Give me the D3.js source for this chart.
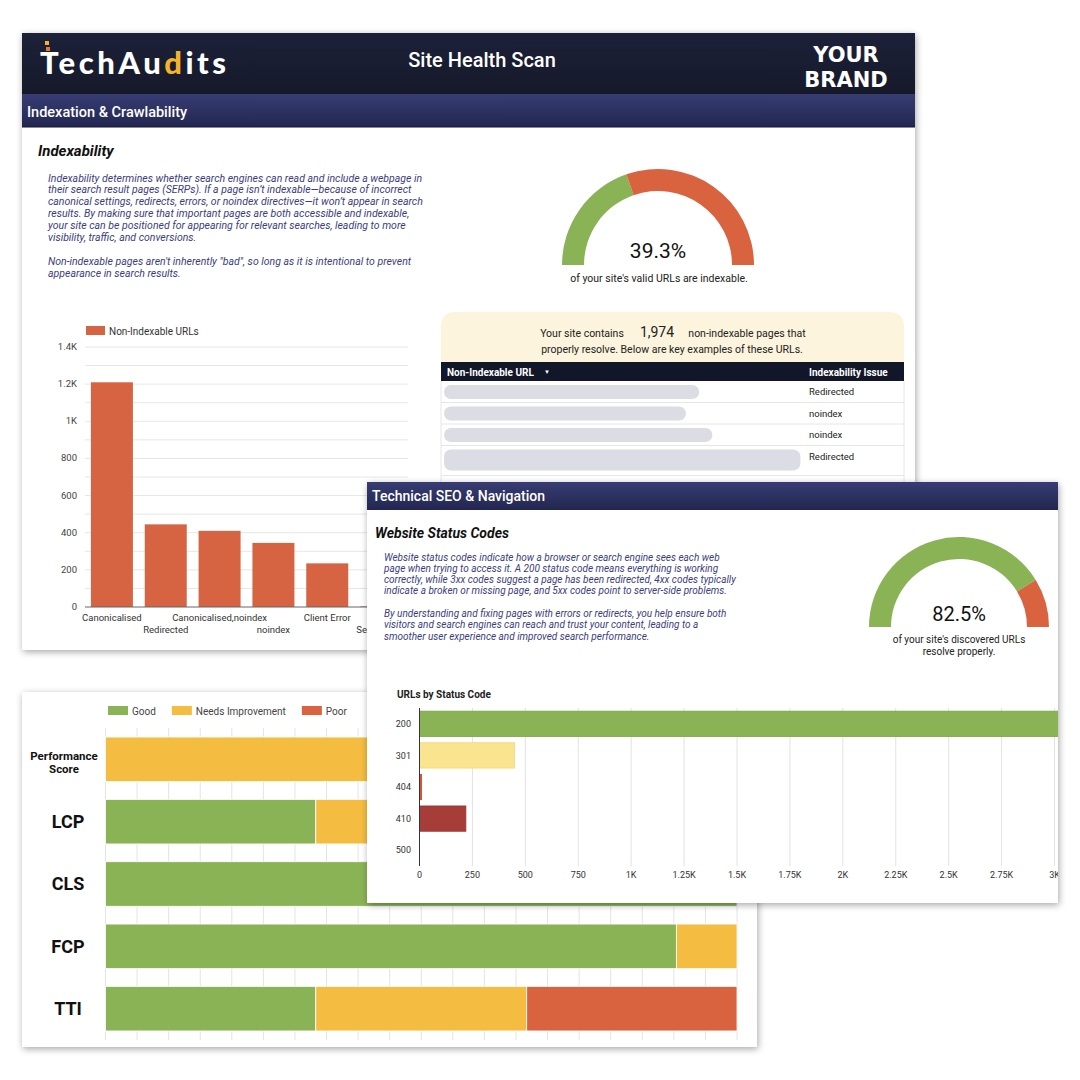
<!DOCTYPE html>
<html>
<head>
<meta charset="utf-8">
<script src="https://cdn.jsdelivr.net/npm/d3@7"></script>
<style>
  body { margin: 0; background: #fff; }
  svg { display: block; font-family: Roboto, "Noto Sans", sans-serif; }
</style>
</head>
<body>
<div id="chart"></div>
<script>
// ---- data ----
const idxCategories = ["Canonicalised", "Redirected", "Canonicalised,noindex", "noindex", "Client Error", "Server Error"];
const idxValues = [1210, 445, 410, 345, 235, 3];
const idxTicks = [0, 200, 400, 600, 800, 1000, 1200, 1400];

const indexablePct = 39.3;
const resolvePct = 82.5;
const nonIndexableCount = "1,974";

const tableIssues = ["Redirected", "noindex", "noindex", "Redirected"];
const urlChars = [58, 55, 61, 81];   // length of the redacted urls

const statusCodes = ["200", "301", "404", "410", "500"];
const statusCounts = [3206, 449, 10, 219, 0];
const statusTicks = [0, 250, 500, 750, 1000, 1250, 1500, 1750, 2000, 2250, 2500, 2750, 3000];

const cwvMetrics = ["Performance Score", "LCP", "CLS", "FCP", "TTI"];
const cwvGood  = [0, 33.3, 100, 90.4, 33.3];
const cwvNeeds = [100, 66.7, 0, 9.6, 33.4];
const cwvPoor  = [0, 0, 0, 0, 33.3];

const indexText = [
  "Indexability determines whether search engines can read and include a webpage in",
  "their search result pages (SERPs). If a page isn\u2019t indexable\u2014because of incorrect",
  "canonical settings, redirects, errors, or noindex directives\u2014it won\u2019t appear in search",
  "results. By making sure that important pages are both accessible and indexable,",
  "your site can be positioned for appearing for relevant searches, leading to more",
  "visibility, traffic, and conversions.",
  "",
  "Non-indexable pages aren't inherently \"bad\", so long as it is intentional to prevent",
  "appearance in search results."
];
const statusText = [
  "Website status codes indicate how a browser or search engine sees each web",
  "page when trying to access it. A 200 status code means everything is working",
  "correctly, while 3xx codes suggest a page has been redirected, 4xx codes typically",
  "indicate a broken or missing page, and 5xx codes point to server-side problems.",
  "",
  "By understanding and fixing pages with errors or redirects, you help ensure both",
  "visitors and search engines can reach and trust your content, leading to a",
  "smoother user experience and improved search performance."
];

const GREEN = "#8ab356", YELLOW = "#f4bd42", RED = "#d9633f";
const kfmt = d => d >= 1000 ? (+(d / 1000).toFixed(2)) + "K" : String(d);

const svg = d3.select("#chart").append("svg").attr("width", 1080).attr("height", 1080);
const defs = svg.append("defs");

const f = defs.append("filter").attr("id", "shadow")
  .attr("x", "-5%").attr("y", "-5%").attr("width", "110%").attr("height", "110%");
f.append("feDropShadow").attr("dx", 1).attr("dy", 2).attr("stdDeviation", 3.5)
  .attr("flood-color", "#000").attr("flood-opacity", 0.35);

function grad(id, c1, c2) {
  const lg = defs.append("linearGradient").attr("id", id).attr("x1", 0).attr("y1", 0).attr("x2", 0).attr("y2", 1);
  lg.append("stop").attr("offset", "0%").attr("stop-color", c1);
  lg.append("stop").attr("offset", "100%").attr("stop-color", c2);
}
grad("hdrDark", "#1d2139", "#151929");
grad("hdrBar", "#373d73", "#222650");

function makePanel(id, x, y, w, h) {
  const g = svg.append("g").attr("id", id);
  g.append("rect").attr("x", x).attr("y", y).attr("width", w).attr("height", h)
    .attr("fill", "#fff").attr("filter", "url(#shadow)");
  defs.append("clipPath").attr("id", id + "-clip")
    .append("rect").attr("x", x).attr("y", y).attr("width", w).attr("height", h);
  return g.append("g").attr("clip-path", `url(#${id}-clip)`);
}

function paragraph(g, lines, x, y0, lh, size) {
  g.append("text").attr("font-size", size).attr("font-style", "italic").attr("fill", "#3a3d7e")
    .selectAll("tspan").data(lines).join("tspan")
    .attr("x", x).attr("y", (d, i) => y0 + i * lh).text(d => d);
}

function gauge(g, cx, cy, rIn, rOut, pct) {
  const arc = d3.arc().innerRadius(rIn).outerRadius(rOut);
  const split = -Math.PI / 2 + Math.PI * pct / 100;
  g.append("path").attr("transform", `translate(${cx},${cy})`)
    .attr("d", arc({ startAngle: -Math.PI / 2, endAngle: split })).attr("fill", GREEN);
  g.append("path").attr("transform", `translate(${cx},${cy})`)
    .attr("d", arc({ startAngle: split, endAngle: Math.PI / 2 })).attr("fill", RED);
}

// ================= panel 3 : core web vitals =================
const p3 = makePanel("p3", 22, 692, 735, 355);
const cwx = d3.scaleLinear().domain([0, 100]).range([105.5, 737]);
const cwy = d3.scaleBand().domain(cwvMetrics).range([728, 1040]).paddingInner(0.285).paddingOuter(0.145);

p3.append("g").selectAll("line").data(d3.range(0, 101, 5)).join("line")
  .attr("x1", d => cwx(d)).attr("x2", d => cwx(d)).attr("y1", 728).attr("y2", 1040)
  .attr("stroke", "#e4e4e4");

const cwvRows = cwvMetrics.map((m, i) => ({ metric: m, good: cwvGood[i], needs: cwvNeeds[i], poor: cwvPoor[i] }));
const cwvSeries = d3.stack().keys(["good", "needs", "poor"])(cwvRows);
const cwvColor = d3.scaleOrdinal().domain(["good", "needs", "poor"]).range([GREEN, YELLOW, RED]);

p3.append("g").selectAll("g").data(cwvSeries).join("g")
  .attr("fill", d => cwvColor(d.key))
  .selectAll("rect").data(d => d.filter(v => v[1] > v[0])).join("rect")
  .attr("x", d => cwx(d[0])).attr("width", d => cwx(d[1]) - cwx(d[0]))
  .attr("y", d => cwy(d.data.metric)).attr("height", cwy.bandwidth())
  .attr("stroke", "#fff").attr("stroke-width", 0.8);

cwvMetrics.forEach(m => {
  const yc = cwy(m) + cwy.bandwidth() / 2;
  const words = m.split(" ");
  if (words.length > 1) {
    p3.append("text").attr("text-anchor", "middle").attr("font-size", 11.5).attr("font-weight", 700).attr("fill", "#111")
      .selectAll("tspan").data(words).join("tspan")
      .attr("x", 64).attr("y", (d, i) => yc + 0.5 + i * 13).text(d => d);
  } else {
    p3.append("text").attr("x", 68).attr("y", yc).attr("dy", "0.36em").attr("text-anchor", "middle")
      .attr("font-size", 18).attr("font-weight", 700).attr("fill", "#111").text(m);
  }
});

const legItems = [["Good", GREEN], ["Needs Improvement", YELLOW], ["Poor", RED]];
let lx = 108;
legItems.forEach(([name, col]) => {
  p3.append("rect").attr("x", lx).attr("y", 706).attr("width", 20).attr("height", 9).attr("fill", col);
  const t = p3.append("text").attr("x", lx + 24).attr("y", 711).attr("dy", "0.35em")
    .attr("font-size", 10).attr("fill", "#444").text(name);
  lx += 24 + t.node().getComputedTextLength() + 16;
});

// ================= panel 1 : indexation =================
const p1 = makePanel("p1", 22, 33, 893, 617);
p1.append("rect").attr("x", 22).attr("y", 33).attr("width", 893).attr("height", 61).attr("fill", "url(#hdrDark)");
p1.append("rect").attr("x", 22).attr("y", 94).attr("width", 893).attr("height", 33).attr("fill", "url(#hdrBar)");
p1.append("line").attr("x1", 22).attr("x2", 915).attr("y1", 127).attr("y2", 127).attr("stroke", "#14172c");

// logo
const logo = p1.append("text").attr("x", 40).attr("y", 74).attr("font-family", "Lato, Roboto, sans-serif")
  .attr("font-size", 31).attr("font-weight", 900).attr("fill", "#fff")
  .attr("textLength", 186).attr("lengthAdjust", "spacing");
logo.append("tspan").text("TechAu");
logo.append("tspan").attr("fill", "#f5b32c").text("d");
logo.append("tspan").text("its");
p1.append("rect").attr("x", 45).attr("y", 41).attr("width", 4).attr("height", 4).attr("fill", "#f5b32c");
p1.append("rect").attr("x", 46).attr("y", 47).attr("width", 4).attr("height", 4).attr("fill", "#e8762e");

p1.append("text").attr("x", 482).attr("y", 67).attr("text-anchor", "middle")
  .attr("font-size", 20).attr("font-weight", 500).attr("fill", "#fff").text("Site Health Scan");
p1.append("text").attr("text-anchor", "middle").attr("font-family", "'DejaVu Sans', 'Liberation Sans', sans-serif")
  .attr("font-size", 21).attr("font-weight", 700).attr("fill", "#fff")
  .selectAll("tspan").data(["YOUR", "BRAND"]).join("tspan")
  .attr("x", 846).attr("y", (d, i) => 62 + i * 25).text(d => d);
p1.append("text").attr("x", 27).attr("y", 117).attr("font-size", 14.5).attr("font-weight", 500)
  .attr("fill", "#fff").text("Indexation & Crawlability");

p1.append("text").attr("x", 38).attr("y", 156).attr("font-size", 15).attr("font-weight", 700)
  .attr("font-style", "italic").attr("fill", "#111").text("Indexability");
paragraph(p1, indexText, 48, 181.5, 11.9, 10.5);

// gauge 1
gauge(p1, 658, 265, 74, 96, indexablePct);
p1.append("text").attr("x", 658).attr("y", 258).attr("text-anchor", "middle").attr("font-size", 21)
  .attr("fill", "#111").text(indexablePct.toFixed(1) + "%");
p1.append("text").attr("x", 659).attr("y", 282).attr("text-anchor", "middle").attr("font-size", 10.5)
  .attr("fill", "#222").text("of your site's valid URLs are indexable.");

// bar chart non-indexable
const bx = d3.scaleBand().domain(idxCategories).range([85, 408]).paddingInner(0.22).paddingOuter(0.11);
const by = d3.scaleLinear().domain([0, 1400]).range([607, 347]);

p1.append("g").selectAll("line").data(d3.range(100, 1401, 100)).join("line")
  .attr("x1", 85).attr("x2", 408).attr("y1", d => by(d)).attr("y2", d => by(d)).attr("stroke", "#e6e6e6");
p1.append("g").selectAll("rect").data(idxCategories).join("rect")
  .attr("x", d => bx(d)).attr("width", bx.bandwidth())
  .attr("y", (d, i) => by(idxValues[i])).attr("height", (d, i) => by(0) - by(idxValues[i]))
  .attr("fill", "#d66342");
p1.append("line").attr("x1", 85).attr("x2", 408).attr("y1", by(0)).attr("y2", by(0)).attr("stroke", "#666");
p1.append("g").selectAll("text").data(idxTicks).join("text")
  .attr("x", 77).attr("y", d => by(d)).attr("dy", "0.32em").attr("text-anchor", "end")
  .attr("font-size", 9.5).attr("fill", "#444").text(kfmt);
// labels lying under the status-codes panel are cut at its edge
defs.append("clipPath").attr("id", "lbl-clip").append("rect").attr("x", 22).attr("y", 600).attr("width", 345).attr("height", 50);
p1.append("g").attr("clip-path", "url(#lbl-clip)")
  .selectAll("text").data(idxCategories).join("text")
  .attr("x", d => bx(d) + bx.bandwidth() / 2).attr("y", (d, i) => i % 2 ? 633 : 620.5)
  .attr("text-anchor", "middle").attr("font-size", 9.5).attr("fill", "#333")
  .attr("textLength", d => d === "Server Error" ? null : undefined)
  .text(d => d);
p1.append("rect").attr("x", 86).attr("y", 326).attr("width", 19).attr("height", 9).attr("fill", "#d66342");
p1.append("text").attr("x", 109).attr("y", 331).attr("dy", "0.35em").attr("font-size", 10)
  .attr("fill", "#333").text("Non-Indexable URLs");

// count box + table
p1.append("path").attr("d", "M441,362 V327 Q441,312 456,312 H889 Q904,312 904,327 V362 Z").attr("fill", "#fcf4dd");
const line1 = p1.append("text").attr("y", 331).attr("dy", "0.35em").attr("text-anchor", "middle").attr("fill", "#222");
line1.append("tspan").attr("x", 582).attr("font-size", 10.5).text("Your site contains");
line1.append("tspan").attr("x", 657).attr("font-size", 14).text(nonIndexableCount);
line1.append("tspan").attr("x", 747).attr("font-size", 10.5).text("non-indexable pages that");
p1.append("text").attr("x", 672).attr("y", 349).attr("dy", "0.35em").attr("text-anchor", "middle")
  .attr("font-size", 10.5).attr("fill", "#222").text("properly resolve. Below are key examples of these URLs.");

p1.append("rect").attr("x", 441).attr("y", 362).attr("width", 463).attr("height", 19).attr("fill", "#111628");
p1.append("text").attr("x", 447).attr("y", 372).attr("dy", "0.35em").attr("font-size", 10).attr("font-weight", 700)
  .attr("fill", "#fff").text("Non-Indexable URL");
p1.append("text").attr("x", 544).attr("y", 371.5).attr("dy", "0.35em").attr("font-size", 6).attr("fill", "#fff").text("\u25BC");
p1.append("text").attr("x", 809).attr("y", 372).attr("dy", "0.35em").attr("font-size", 10).attr("font-weight", 700)
  .attr("fill", "#fff").text("Indexability Issue");

const pillW = d3.scaleLinear().domain([0, 100]).range([0, 440]);
let rowTop = 381;
tableIssues.forEach((iss, i) => {
  const tall = urlChars[i] > 75;
  const ph = tall ? 21 : 14;
  const rh = ph + (tall ? 9 : 7.5);
  p1.append("rect").attr("x", 444).attr("y", rowTop + 4).attr("width", pillW(urlChars[i])).attr("height", ph)
    .attr("rx", 7).attr("fill", "#dcdce4");
  p1.append("text").attr("x", 809).attr("y", rowTop + 11).attr("dy", "0.35em").attr("font-size", 9.5)
    .attr("fill", "#222").text(iss);
  rowTop += rh;
  p1.append("line").attr("x1", 441).attr("x2", 904).attr("y1", rowTop).attr("y2", rowTop).attr("stroke", "#e6e6e6");
});
p1.append("line").attr("x1", 441).attr("x2", 441).attr("y1", 381).attr("y2", 500).attr("stroke", "#e6e6e6");
p1.append("line").attr("x1", 904).attr("x2", 904).attr("y1", 381).attr("y2", 500).attr("stroke", "#e6e6e6");

// ================= panel 2 : status codes =================
const p2 = makePanel("p2", 367, 482, 691, 421);
p2.append("rect").attr("x", 367).attr("y", 482).attr("width", 691).attr("height", 28).attr("fill", "url(#hdrBar)");
p2.append("text").attr("x", 372).attr("y", 501).attr("font-size", 14).attr("font-weight", 500)
  .attr("fill", "#fff").text("Technical SEO & Navigation");
p2.append("text").attr("x", 375).attr("y", 538).attr("font-size", 14).attr("font-weight", 700)
  .attr("font-style", "italic").attr("fill", "#111").text("Website Status Codes");
paragraph(p2, statusText, 384, 560.5, 11.3, 10);

gauge(p2, 959, 627, 68, 90, resolvePct);
p2.append("text").attr("x", 959).attr("y", 621).attr("text-anchor", "middle").attr("font-size", 20)
  .attr("fill", "#111").text(resolvePct.toFixed(1) + "%");
p2.append("text").attr("text-anchor", "middle").attr("font-size", 10).attr("fill", "#222")
  .selectAll("tspan").data(["of your site's discovered URLs", "resolve properly."]).join("tspan")
  .attr("x", 959).attr("y", (d, i) => 643 + i * 12).text(d => d);

p2.append("text").attr("x", 397).attr("y", 698).attr("font-size", 10).attr("font-weight", 700)
  .attr("fill", "#222").text("URLs by Status Code");

const sx = d3.scaleLinear().domain([0, 3000]).range([419.5, 1054.5]);
const sy = d3.scaleBand().domain(statusCodes).range([708, 866]).paddingInner(0.2).paddingOuter(0.1);
const statusColor = d3.scaleOrdinal().domain(statusCodes).range(["#8ab356", "#fbe48f", "#d9533c", "#a63d38", "#999"]);
const statusStroke = d3.scaleOrdinal().domain(statusCodes).range(["#77a346", "#f3d675", "#c8452f", "#93322e", "#999"]);

p2.append("g").selectAll("line").data(statusTicks.slice(1)).join("line")
  .attr("x1", d => sx(d)).attr("x2", d => sx(d)).attr("y1", 708).attr("y2", 866).attr("stroke", "#e2e2e2");
p2.append("g").selectAll("rect").data(statusCodes.filter((c, i) => statusCounts[i] > 0)).join("rect")
  .attr("x", sx(0)).attr("y", d => sy(d))
  .attr("width", d => sx(statusCounts[statusCodes.indexOf(d)]) - sx(0)).attr("height", sy.bandwidth())
  .attr("fill", d => statusColor(d)).attr("stroke", d => statusStroke(d)).attr("stroke-width", 0.8);
p2.append("line").attr("x1", sx(0)).attr("x2", sx(0)).attr("y1", 708).attr("y2", 866).attr("stroke", "#333");
p2.append("g").selectAll("text").data(statusCodes).join("text")
  .attr("x", 411).attr("y", d => sy(d) + sy.bandwidth() / 2).attr("dy", "0.35em").attr("text-anchor", "end")
  .attr("font-size", 9).attr("fill", "#333").text(d => d);
p2.append("g").selectAll("text").data(statusTicks).join("text")
  .attr("x", d => sx(d)).attr("y", 875).attr("dy", "0.35em").attr("text-anchor", "middle")
  .attr("font-size", 9).attr("fill", "#333").text(kfmt);
</script>
</body>
</html>
